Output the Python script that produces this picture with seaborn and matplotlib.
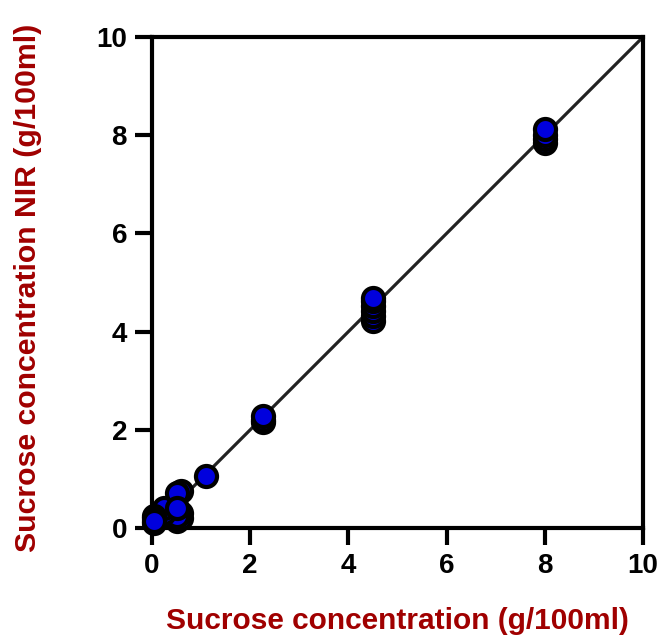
import pandas as pd
import seaborn as sns
import matplotlib.pyplot as plt

# ==== reference vs NIR sucrose readings (g/100ml)
ref_conc = [0.5, 0.5, 0.6, 0.6, 0.5, 0.5, 0.25, 0.25, 0.05, 0.05, 0.05,
            0.6, 0.5, 0.5,
            1.1,
            2.25, 2.25, 2.25,
            4.5, 4.5, 4.5, 4.5, 4.5, 4.5,
            8.0, 8.0, 8.0, 8.0,
            0.05]
nir_conc = [0.15, 0.2, 0.2, 0.3, 0.3, 0.25, 0.3, 0.4, 0.25, 0.2, 0.1,
            0.75, 0.71, 0.41,
            1.06,
            2.15, 2.2, 2.28,
            4.22, 4.32, 4.42, 4.52, 4.62, 4.68,
            7.85, 7.92, 8.0, 8.12,
            0.14]
line_x = [0, 10]
ticks = [0, 2, 4, 6, 8, 10]

data = pd.DataFrame({"ref": ref_conc, "nir": nir_conc})

sns.set_style("white")
plt.rcParams['font.family'] = ['Liberation Sans', 'DejaVu Sans']
plt.rcParams['font.weight'] = 'bold'

fig = plt.figure(figsize=(6.63, 6.39), dpi=100)
ax = fig.add_axes([0.2293, 0.1737, 0.7406, 0.7684])

# identity line
ax.plot(line_x, line_x, color="#222222", linewidth=2.3, zorder=1)

sns.scatterplot(x="ref", y="nir", data=data, ax=ax, s=230, color="#0000dd",
                edgecolor="black", linewidth=3, zorder=3, legend=False,
                clip_on=False)

ax.set_xlim(0, 10)
ax.set_ylim(0, 10)
ax.set_xticks(ticks)
ax.set_yticks(ticks)
ax.tick_params(direction="out", length=12, width=3, color="black",
               labelcolor="black", labelsize=20, pad=6, bottom=True, left=True)
for lab in ax.get_xticklabels() + ax.get_yticklabels():
    lab.set_fontweight("bold")
for sp in ax.spines.values():
    sp.set_visible(True)
    sp.set_color("black")
    sp.set_linewidth(3)

ax.set_xlabel("Sucrose concentration (g/100ml)", fontsize=21.5,
              fontweight="bold", color="#a00000")
ax.set_ylabel("Sucrose concentration NIR (g/100ml)", fontsize=21.8,
              fontweight="bold", color="#a00000")
ax.xaxis.set_label_coords(0.5, -0.16)
ax.yaxis.set_label_coords(-0.225, 0.49)

fig.savefig("out.png", dpi=100)
